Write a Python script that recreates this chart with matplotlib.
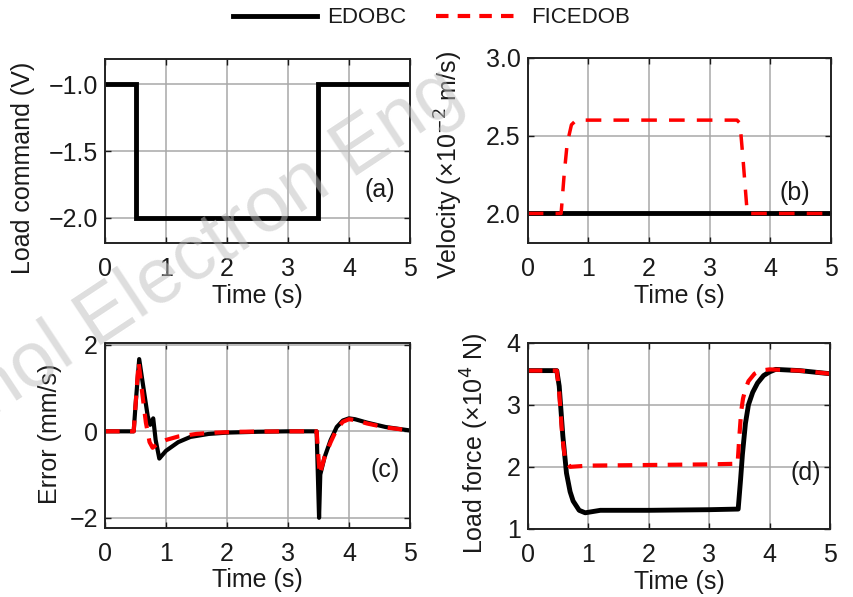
import matplotlib
matplotlib.use('Agg')
import matplotlib.pyplot as plt
from matplotlib.lines import Line2D

plt.rcParams['font.family'] = ['Liberation Sans', 'DejaVu Sans']
plt.rcParams['axes.unicode_minus'] = True

# (a) load command
t_a = [0, 0.5, 0.5, 3.5, 3.5, 5]
cmd_a = [-1.0, -1.0, -2.0, -2.0, -1.0, -1.0]

# (b) velocity (x1e-2 m/s)
t_b_black = [0, 5]
vel_black = [2.0, 2.0]
t_b_red = [0, 0.55, 0.6, 0.65, 0.72, 0.8, 3.45, 3.5, 3.55, 3.62, 5]
vel_red = [2.0, 2.0, 2.25, 2.45, 2.57, 2.6, 2.6, 2.58, 2.35, 2.0, 2.0]

# (c) error (mm/s)
t_c_black = [0, 0.47, 0.5, 0.56, 0.62, 0.7, 0.74, 0.79, 0.83, 0.89, 1.0, 1.2, 1.4, 1.7, 2.0, 2.5, 3.0, 3.47,
             3.49, 3.51, 3.53, 3.6, 3.7, 3.8, 3.9, 4.0, 4.1, 4.3, 4.6, 5.0]
err_black = [0, 0, 0.6, 1.67, 1.1, 0.35, 0.15, 0.3, -0.2, -0.63, -0.45, -0.25, -0.13, -0.06, -0.03, -0.01, 0, 0,
             -1.0, -2.0, -1.0, -0.6, -0.2, 0.1, 0.25, 0.3, 0.28, 0.2, 0.1, 0.02]
t_c_red = [0, 0.47, 0.5, 0.55, 0.6, 0.67, 0.73, 0.78, 0.85, 1.0, 1.2, 1.5, 1.8, 2.2, 3.0, 3.47,
           3.5, 3.52, 3.6, 3.7, 3.8, 3.9, 4.0, 4.1, 4.3, 4.6, 5.0]
err_red = [0, 0, 0.6, 1.6, 1.0, 0.2, -0.25, -0.38, -0.3, -0.2, -0.12, -0.06, -0.03, -0.01, 0, 0,
           -0.6, -1.0, -0.6, -0.25, 0.05, 0.22, 0.28, 0.26, 0.18, 0.09, 0.02]

# (d) load force (x1e4 N)
t_d_black = [0, 0.48, 0.52, 0.58, 0.64, 0.7, 0.75, 0.85, 0.95, 1.2, 2.0, 3.0, 3.48,
             3.52, 3.55, 3.6, 3.65, 3.72, 3.8, 3.9, 4.0, 4.1, 4.5, 5.0]
force_black = [3.55, 3.55, 3.3, 2.5, 1.9, 1.6, 1.45, 1.3, 1.26, 1.3, 1.3, 1.31, 1.32,
               1.8, 2.2, 2.7, 3.0, 3.2, 3.35, 3.47, 3.53, 3.57, 3.55, 3.5]
t_d_red = [0, 0.48, 0.52, 0.57, 0.62, 0.7, 1.0, 2.0, 3.0, 3.47,
           3.5, 3.53, 3.56, 3.6, 3.65, 3.75, 3.85, 4.0, 4.5, 5.0]
force_red = [3.55, 3.55, 3.2, 2.5, 2.1, 2.0, 2.02, 2.03, 2.04, 2.05,
             2.5, 2.9, 3.1, 3.25, 3.38, 3.5, 3.55, 3.57, 3.55, 3.5]

time_ticks = [0, 1, 2, 3, 4, 5]

red = '#ff0000'
txt = '#1a1a1a'
fs = 18

fig = plt.figure(figsize=(8.54, 5.97), dpi=100)

def style(ax, ylim, yticks, yfmt, ylabel, labxy, tag, tagxy):
    ax.set_xlim(0, 5)
    ax.set_ylim(*ylim)
    ax.set_xticks(time_ticks)
    ax.set_yticks(yticks)
    ax.set_yticklabels([yfmt.format(v).replace('-', '\u2212') for v in yticks])
    ax.grid(True, color='#a8a8a8', lw=1.1)
    ax.set_axisbelow(True)
    ax.tick_params(direction='in', top=True, right=True, labelsize=fs, colors=txt,
                   length=4, width=1, pad=5)
    ax.tick_params(axis='x', pad=10)
    for s in ax.spines.values():
        s.set_linewidth(1.4)
        s.set_color('#222222')
    ax.set_xlabel('Time (s)', fontsize=fs, color=txt, labelpad=2)
    ax.set_ylabel(ylabel, fontsize=fs, color=txt)
    ax.yaxis.set_label_coords(*labxy)
    ax.text(tagxy[0], tagxy[1], tag, transform=ax.transAxes, fontsize=fs, color=txt,
            ha='center', va='center')

# (a)
ax = fig.add_axes([0.123, 0.593, 0.357, 0.308])
ax.plot(t_a, cmd_a, color='black', lw=3.5, solid_joinstyle='miter')
style(ax, (-2.19, -0.81), [-2.0, -1.5, -1.0], '{:.1f}', 'Load command (V)', (-0.23, 0.41), '(a)', (0.9, 0.29))

# (b)
ax = fig.add_axes([0.618, 0.593, 0.355, 0.310])
ax.plot(t_b_black, vel_black, color='black', lw=3.5)
ax.plot(t_b_red, vel_red, color=red, lw=2.5, dashes=(4.5, 3.5))
style(ax, (1.81, 3.0), [2.0, 2.5, 3.0], '{:.1f}', 'Velocity (\u00d710$^{\u22122}$ m/s)', (-0.208, 0.42),
      '(b)', (0.88, 0.27))

# (c)
ax = fig.add_axes([0.123, 0.116, 0.357, 0.310])
ax.plot(t_c_black, err_black, color='black', lw=3)
ax.plot(t_c_red, err_red, color=red, lw=3, dashes=(3.5, 2.5))
style(ax, (-2.23, 2.05), [-2, 0, 2], '{:d}', 'Error (mm/s)', (-0.141, 0.51), '(c)', (0.92, 0.31))

# (d)
ax = fig.add_axes([0.618, 0.114, 0.354, 0.312])
ax.plot(t_d_black, force_black, color='black', lw=3.5)
ax.plot(t_d_red, force_red, color=red, lw=3, dashes=(3.5, 2.5))
style(ax, (1, 4), [1, 2, 3, 4], '{:d}', 'Load force (\u00d710$^4$ N)', (-0.12, 0.46), '(d)', (0.92, 0.30))

handles = [Line2D([], [], color='black', lw=3.5),
           Line2D([], [], color=red, lw=3, dashes=(3, 2.2))]
fig.legend(handles, ['EDOBC', 'FICEDOB'], loc='center', bbox_to_anchor=(0.505, 0.970), ncol=2,
           frameon=False, fontsize=16, handlelength=3.8, handletextpad=0.45, columnspacing=1.35,
           labelcolor=txt)

# watermark
fig.text(-0.01, 0.30, 'nol Electron Eng', rotation=33.5, rotation_mode='anchor', ha='left', va='baseline',
         fontsize=56, color='#bdbdbd', alpha=0.5, zorder=10)

fig.savefig('out.png', dpi=100)
